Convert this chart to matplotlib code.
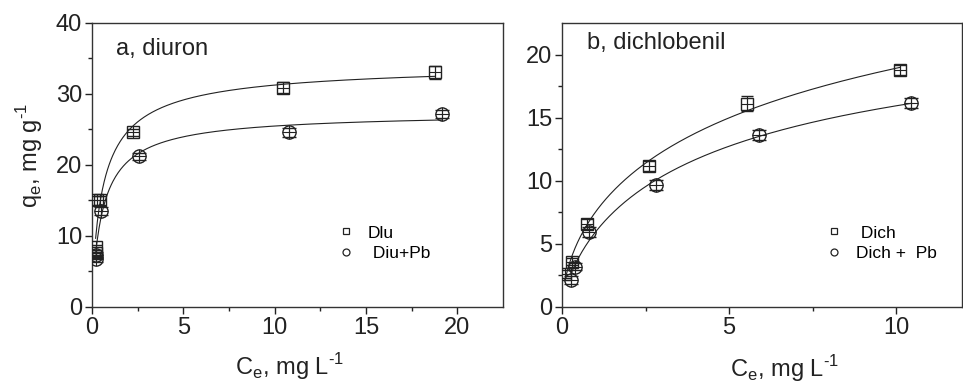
import numpy as np
import matplotlib.pyplot as plt

plt.rcParams['font.family'] = ['Liberation Sans', 'DejaVu Sans']
plt.rcParams['mathtext.fontset'] = 'custom'
plt.rcParams['mathtext.rm'] = 'Liberation Sans'

# Panel a: diuron
diu_c = [0.2, 0.2, 0.3, 0.45, 2.23, 10.45, 18.8]
diu_q = [8.4, 7.6, 15.0, 15.0, 24.6, 30.9, 33.05]
diu_err = [0.4, 0.4, 0.6, 0.6, 0.5, 0.8, 0.9]

diupb_c = [0.2, 0.2, 0.5, 2.55, 10.8, 19.15]
diupb_q = [7.3, 6.7, 13.5, 21.2, 24.6, 27.2]
diupb_err = [0.4, 0.4, 0.6, 0.5, 0.6, 0.6]

# Panel b: dichlobenil
dich_c = [0.09, 0.29, 0.74, 2.6, 5.54, 10.1]
dich_q = [2.6, 3.6, 6.55, 11.2, 16.1, 18.75]
dich_err = [0.3, 0.3, 0.4, 0.4, 0.6, 0.4]

dichpb_c = [0.27, 0.39, 0.8, 2.8, 5.88, 10.45]
dichpb_q = [2.15, 3.2, 5.95, 9.63, 13.65, 16.15]
dichpb_err = [0.3, 0.3, 0.4, 0.4, 0.4, 0.4]

INK = '#222222'


def sips(c, qm, k, n):
    x = (k * c) ** n
    return qm * x / (1 + x)


def fit_sips(c, q):
    # brute-force least squares over a parameter grid
    c = np.asarray(c)[:, None, None, None]
    q = np.asarray(q)[:, None, None, None]
    qm = np.linspace(10, 60, 101)[None, :, None, None]
    k = np.logspace(-2, 1, 121)[None, None, :, None]
    n = np.linspace(0.3, 1.5, 61)[None, None, None, :]
    res = ((sips(c, qm, k, n) - q) ** 2).sum(axis=0)
    i, j, m = np.unravel_index(np.argmin(res), res.shape)
    return qm[0, i, 0, 0], k[0, 0, j, 0], n[0, 0, 0, m]


fig = plt.figure(figsize=(9.63, 3.85), dpi=100)
ax1 = fig.add_axes([0.0955, 0.2026, 0.4268, 0.7377])
ax2 = fig.add_axes([0.5836, 0.2026, 0.4154, 0.7377])


def draw(ax, c, q, err, marker, size):
    ax.errorbar(c, q, yerr=err, fmt=marker, ms=size, mfc='none', mec=INK,
                mew=1.0, ecolor=INK, elinewidth=0.8, capsize=size * 0.55,
                capthick=1.0, zorder=3)
    ax.plot(c, q, '+', ms=size, mec=INK, mew=0.8, zorder=3)
    p = fit_sips(c, q)
    cc = np.linspace(min(c), max(c), 400)
    ax.plot(cc, sips(cc, *p), color=INK, lw=0.8, zorder=2)


draw(ax1, diu_c, diu_q, diu_err, 's', 8.5)
draw(ax1, diupb_c, diupb_q, diupb_err, 'o', 9.5)
draw(ax2, dich_c, dich_q, dich_err, 's', 8.5)
draw(ax2, dichpb_c, dichpb_q, dichpb_err, 'o', 9.5)

ax1.set_xlim(0, 22.5)
ax1.set_ylim(0, 40)
ax1.set_xticks([0, 5, 10, 15, 20])
ax1.set_xticks([2.5, 7.5, 12.5, 17.5], minor=True)
ax1.set_yticks([0, 10, 20, 30, 40])
ax1.set_yticks([5, 15, 25, 35], minor=True)

ax2.set_xlim(0, 11.97)
ax2.set_ylim(0, 22.5)
ax2.set_xticks([0, 5, 10])
ax2.set_xticks([2.5, 7.5], minor=True)
ax2.set_yticks([0, 5, 10, 15, 20])
ax2.set_yticks([2.5, 7.5, 12.5, 17.5], minor=True)

for ax in (ax1, ax2):
    for s in ax.spines.values():
        s.set_linewidth(1.0)
        s.set_color('#333333')
    ax.tick_params(which='major', direction='out', length=5, width=1.0,
                   labelsize=17, colors=INK, pad=2)
    ax.tick_params(which='minor', direction='out', length=3, width=1.0,
                   colors=INK)

ax1.text(0.058, 0.91, 'a, diuron', transform=ax1.transAxes, fontsize=17,
         va='center', color=INK)
ax2.text(0.062, 0.93, 'b, dichlobenil', transform=ax2.transAxes, fontsize=17,
         va='center', color=INK)

# legends
leg_kw = dict(loc='upper left', frameon=False, fontsize=12.5, handlelength=1.0,
              handletextpad=0.73, labelspacing=0.29, borderpad=0)
h1 = ax1.plot([], [], 's', ms=4.5, mfc='none', mec=INK, mew=0.9)[0]
h2 = ax1.plot([], [], 'o', ms=5, mfc='none', mec=INK, mew=0.9)[0]
ax1.legend([h1, h2], ['Dlu', ' Diu+Pb'], bbox_to_anchor=(0.577, 0.318), **leg_kw)
h3 = ax2.plot([], [], 's', ms=4.5, mfc='none', mec=INK, mew=0.9)[0]
h4 = ax2.plot([], [], 'o', ms=5, mfc='none', mec=INK, mew=0.9)[0]
ax2.legend([h3, h4], [' Dich', 'Dich +  Pb'], bbox_to_anchor=(0.637, 0.318), **leg_kw)

xlab = r'C$_\mathrm{e}$, mg L$^{\text{-1}}$'
fig.text(289 / 963, 1 - 367 / 385, xlab, ha='center', va='center',
         fontsize=17, color=INK)
fig.text(784 / 963, 1 - 369 / 385, xlab, ha='center', va='center',
         fontsize=17, color=INK)
fig.text(30 / 963, 1 - 155 / 385, r'q$_\mathrm{e}$, mg g$^{\text{-1}}$',
         ha='center', va='center', rotation=90, fontsize=17, color=INK)

fig.savefig('out.png', dpi=100)
